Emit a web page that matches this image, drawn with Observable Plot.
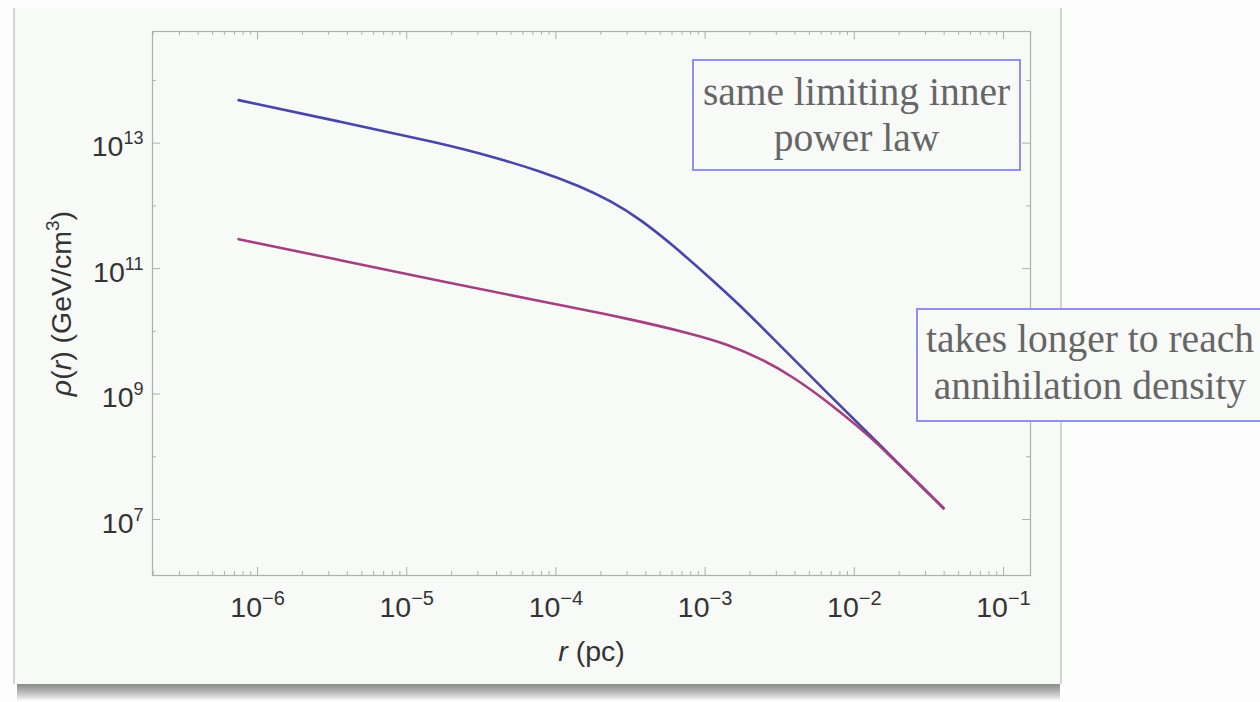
<!DOCTYPE html>
<html><head><meta charset="utf-8">
<script src="https://cdn.jsdelivr.net/npm/d3@7"></script>
<script src="https://cdn.jsdelivr.net/npm/@observablehq/plot@0.6"></script>
<style>
html,body{margin:0;padding:0;background:#fcfdfc;width:1260px;height:702px;overflow:hidden;position:relative;}
#card{position:absolute;left:13px;top:8px;width:1045px;height:676px;background:#f8faf8;border-left:2px solid #d2d4d2;border-right:2px solid #d2d4d2;}
#shadow{position:absolute;left:17px;top:684px;width:1043px;height:16px;background:linear-gradient(#8a8a8a,#bdbdbd 55%,#f3f3f3);}
#chart{position:absolute;left:0;top:0;}
.note{position:absolute;border:2px solid #9090f2;background:#f8faf8;font-family:"Liberation Serif","Times New Roman",serif;color:#666;text-align:center;font-size:39.5px;line-height:46px;box-sizing:content-box;white-space:nowrap;}
</style></head><body>
<div id="card"></div><div id="shadow"></div><div id="chart"></div>
<div class="note" style="left:692px;top:59px;width:325px;height:100px;padding-top:8px;">same limiting inner<br>power law</div>
<div class="note" style="left:916px;top:308px;width:344px;height:104px;padding-top:6px;line-height:47px;">takes longer to reach<br>annihilation density</div>
<script>
// log10 values
const blueLogR   = [-6.127,-5.444,-4.773,-4.438,-4.103,-3.835,-3.634,-3.433,-3.212,-2.984,-2.763,-2.562,-2.180,-1.824,-1.402];
const blueLogRho = [13.686,13.340,13.000,12.793,12.553,12.311,12.081,11.785,11.364,10.887,10.408,9.930,9.013,8.180,7.179];
const magLogR    = [-6.127,-5.444,-4.773,-4.103,-3.520,-3.078,-2.850,-2.629,-2.408,-2.180,-1.958,-1.824,-1.402];
const magLogRho  = [11.469,11.134,10.799,10.480,10.207,9.955,9.793,9.571,9.271,8.880,8.447,8.167,7.179];
const xMajorTicks = [1e-6,1e-5,1e-4,1e-3,1e-2,1e-1];
const yMajorTicks = [1e7,1e9,1e11,1e13];
const yMinorTicks = [1e8,1e10,1e12,1e14];
const xLabel = "_r_ (pc)";
const yLabel = "_ρ_(_r_) (GeV/cm^3^)";

const blue = blueLogR.map((v,i)=>({r:10**v, rho:10**blueLogRho[i]}));
const mag = magLogR.map((v,i)=>({r:10**v, rho:10**magLogRho[i]}));
const xMinorTicks = [];
for (let k=-7;k<=-1;k++) for (let m=2;m<=9;m++){ const v=m*10**k; if (v>10**-6.704 && v<10**-0.819) xMinorTicks.push(v); }

const W=1260,H=702,mL=152,mR=230,mT=31,mB=127;
const fw=W-mL-mR, fh=H-mT-mB;
const tickCol="#aeb0ae";
const expFmt = d => { const e=Math.round(Math.log10(d)); return "10^"+(e<0?"\u2212"+(-e):String(e))+"^"; };

const chart = Plot.plot({
  width:W, height:H, marginLeft:mL, marginRight:mR, marginTop:mT, marginBottom:mB,
  style:{background:"transparent", fontFamily:"'Liberation Sans', Arial, sans-serif", overflow:"visible"},
  x:{type:"log", domain:[10**-6.704,10**-0.819]},
  y:{type:"log", domain:[10**6.107,10**14.78]},
  marks:[
    Plot.frame({stroke:tickCol, strokeWidth:1.2}),
    Plot.ruleX(xMajorTicks,{insetTop:fh-8, stroke:tickCol}),
    Plot.ruleX(xMajorTicks,{insetBottom:fh-8, stroke:tickCol}),
    Plot.ruleX(xMinorTicks,{insetTop:fh-4, stroke:tickCol}),
    Plot.ruleX(xMinorTicks,{insetBottom:fh-4, stroke:tickCol}),
    Plot.ruleY(yMajorTicks,{insetRight:fw-8, stroke:tickCol}),
    Plot.ruleY(yMajorTicks,{insetLeft:fw-8, stroke:tickCol}),
    Plot.ruleY(yMinorTicks,{insetRight:fw-4, stroke:tickCol}),
    Plot.ruleY(yMinorTicks,{insetLeft:fw-4, stroke:tickCol}),
    Plot.axisX({ticks:xMajorTicks, tickFormat:expFmt, tickSize:0, tickPadding:21, fontSize:28.5, fill:"#333", label:null, className:"xax"}),
    Plot.axisY({ticks:yMajorTicks, tickFormat:expFmt, tickSize:0, tickPadding:9, dy:4, fontSize:28.5, fill:"#333", label:null, className:"yax"}),
    Plot.line(blue,{x:"r", y:"rho", stroke:"#4646ab", strokeWidth:2.6, curve:"basis"}),
    Plot.line(mag,{x:"r", y:"rho", stroke:"#a4407f", strokeWidth:2.6, curve:"basis"}),
    Plot.text([xLabel],{frameAnchor:"bottom", dy:85, lineAnchor:"bottom", fontSize:28.5, fill:"#333"}),
    Plot.text([yLabel],{frameAnchor:"left", dx:-82, rotate:-90, lineAnchor:"bottom", textAnchor:"middle", fontSize:28.5, fill:"#333"})
  ]
});

const NS="http://www.w3.org/2000/svg";
function richify(el, supSize, supShift){
  const s = el.textContent;
  if (!/[_^]/.test(s)) return;
  const parts = s.split(/(_[^_]+_|\^[^^]+\^)/g).filter(p=>p!=="");
  el.textContent="";
  let cur=0;
  for (const p of parts){
    const t=document.createElementNS(NS,"tspan");
    let target=0;
    if (p[0]==="_" && p.length>2){ t.textContent=p.slice(1,-1); t.setAttribute("font-style","italic"); }
    else if (p[0]==="^" && p.length>2){ t.textContent=p.slice(1,-1); t.setAttribute("font-size",supSize); target=-supShift; }
    else t.textContent=p;
    if (target!==cur){ t.setAttribute("dy", target-cur); cur=target; }
    el.appendChild(t);
  }
}
chart.querySelectorAll("g.xax text, [class*='xax'] text").forEach(t=>richify(t,20,12));
chart.querySelectorAll("g.yax text, [class*='yax'] text").forEach(t=>richify(t,18,12));
chart.querySelectorAll("text").forEach(t=>richify(t,19,12));
document.getElementById("chart").appendChild(chart);
</script>
</body></html>
